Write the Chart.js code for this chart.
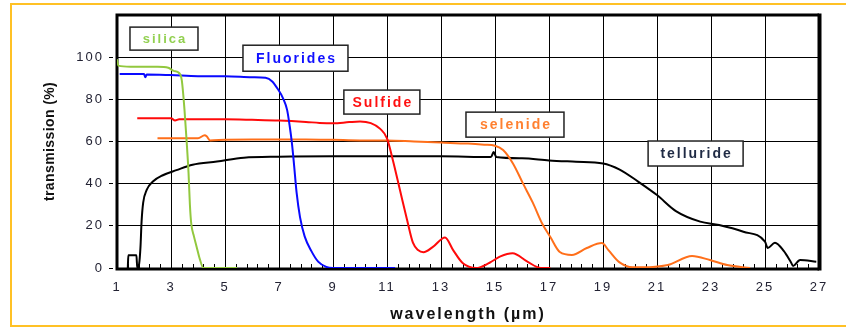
<!DOCTYPE html>
<html>
<head>
<meta charset="utf-8">
<title>Glass transmission</title>
<script src="https://cdn.jsdelivr.net/npm/chart.js@4/dist/chart.umd.min.js"></script>
<style>
  html, body { margin: 0; padding: 0; background: #fff; }
  #wrap { position: relative; width: 846px; height: 329px; overflow: hidden; }
  #frame { position: absolute; left: 10px; top: 3px; width: 850px; height: 320px;
           border: 2px solid #FFC125; border-right: none; }
  canvas { position: absolute; left: 0; top: 0; }
</style>
</head>
<body>
<div id="wrap">
  <div id="frame"></div>
  <canvas id="chart" width="846" height="329"></canvas>
</div>
<script>
// transmission curves, wavelength in µm, transmission in %
const silicaX = [1.0, 1.05, 1.5, 2.0, 2.5, 2.9, 3.1, 3.3, 3.4, 3.5, 3.58, 3.65, 3.7, 3.75, 3.85, 3.95, 4.05, 4.2, 4.8, 5.45];
const silicaY = [99, 96, 95.5, 95.5, 95.5, 95, 93.5, 92.5, 89, 75, 60, 45, 30, 21, 15, 10, 5, 0, 0, 0];

const fluorideX = [1.1, 1.5, 2.0, 2.05, 2.1, 3.0, 4.0, 5.0, 6.0, 6.5, 6.75, 6.95, 7.15, 7.3, 7.4, 7.48, 7.55, 7.65, 7.78, 7.95, 8.2, 8.45, 8.75, 9.0, 10.0, 11.3];
const fluorideY = [92, 92, 92, 90.5, 91.8, 91.5, 91, 91, 90.5, 90.2, 88.5, 85, 80.5, 75, 67, 59, 50, 36, 24, 15, 8, 3, 0.5, 0, 0, 0];

const sulfideX = [1.75, 2.5, 3.0, 3.15, 3.3, 4.0, 5.0, 6.0, 7.0, 8.0, 8.5, 9.0, 9.6, 10.0, 10.4, 10.75, 11.0, 11.22, 11.48, 11.74, 11.96, 12.15, 12.35, 12.7, 13.15, 13.45, 13.8, 14.3, 14.8, 15.2, 15.65, 16.2, 16.7, 17.05];
const sulfideY = [71, 71, 71, 70, 70.5, 70.5, 70.5, 70.3, 70, 69.3, 68.8, 68.6, 69.2, 69.5, 68.7, 66, 61.5, 51, 37, 23, 12, 8.5, 7.5, 10, 14.5, 8.5, 2.4, 0, 2.5, 5.5, 7, 3, 0, 0];

const selenideX = [2.5, 3.0, 4.0, 4.25, 4.32, 4.45, 5.0, 6.0, 7.0, 8.0, 9.0, 10.0, 11.0, 12.0, 13.0, 14.0, 14.6, 15.0, 15.3, 15.67, 16.04, 16.4, 16.75, 17.05, 17.4, 17.85, 18.4, 18.96, 19.2, 19.6, 20.1, 20.85, 21.4, 22.3, 22.96, 23.6, 24.45];
const selenideY = [61.5, 61.5, 61.5, 63, 62.5, 60.5, 60.8, 61, 61, 61, 60.8, 60.5, 60.5, 60, 59.5, 59, 58.5, 58, 56, 49.5, 40, 31, 21, 14.7, 7.6, 6.2, 9.5, 11.8, 8.5, 2.8, 0.3, 0.5, 1.4, 5.7, 3.8, 1.4, 0];

const tellurideX = [1.4, 1.42, 1.72, 1.75, 1.82, 1.87, 1.91, 1.97, 2.1, 2.33, 2.7, 3.2, 3.8, 4.7, 5.7, 7.0, 9.0, 11.0, 13.0, 14.85, 14.95, 15.05, 16.0, 17.0, 18.0, 19.0, 19.6, 20.3, 21.0, 21.7, 22.6, 23.3, 24.2, 25.0, 25.1, 25.37, 25.7, 25.95, 26.04, 26.3, 26.9];
const tellurideY = [0, 6, 6, 0, 2, 10, 22, 31, 37, 41, 44, 46.4, 49, 50.5, 52.3, 52.8, 53, 53, 53, 52.6, 55, 52.6, 52, 51, 50.4, 49.6, 46.8, 41, 34.6, 27, 22, 20.4, 17.2, 12.5, 9.5, 12, 8, 3, 1, 3.8, 3];

// axis ranges / ticks
const xMin = 1, xMax = 27, xStep = 2, xMinorStep = 0.4;
const yMin = 0, yMax = 120, yStep = 20, yLastLabel = 100;

// label boxes (centre in data units, size in px)
const labels = [
  { text: 'silica',    x: 2.74,  y: 108.8, w: 68,  h: 23, color: '#92D050', size: 13 },
  { text: 'Fluorides', x: 7.61,  y: 99.5,  w: 105, h: 26, color: '#1010FF', size: 14 },
  { text: 'Sulfide',   x: 10.81, y: 78.7,  w: 76,  h: 24, color: '#FF1010', size: 14 },
  { text: 'selenide',  x: 15.74, y: 68,    w: 98,  h: 25, color: '#FF8030', size: 14 },
  { text: 'telluride', x: 22.43, y: 54.3,  w: 95,  h: 25, color: '#1F2A44', size: 14 }
];

const FONT = '"Liberation Sans", Arial, Helvetica, sans-serif';

function pts(xs, ys) {
  return xs.map((x, i) => ({ x: x, y: ys[i] }));
}

function series(label, xs, ys, color) {
  return {
    label: label,
    data: pts(xs, ys),
    borderColor: color,
    borderWidth: 2,
    pointRadius: 0,
    fill: false,
    cubicInterpolationMode: 'monotone'
  };
}

// frame, minor ticks, label boxes and y title
const decorations = {
  id: 'decorations',
  beforeDraw(chart) {
    chart.ctx.letterSpacing = '2px';
  },
  beforeDatasetsDraw(chart) {
    const { ctx, chartArea: a, scales: { x } } = chart;
    ctx.save();
    ctx.strokeStyle = '#000';
    ctx.lineWidth = 1;
    ctx.beginPath();
    for (let v = xMin + xMinorStep; v < xMax; v += xMinorStep) {
      const px = Math.round(x.getPixelForValue(v)) + 0.5;
      ctx.moveTo(px, a.bottom);
      ctx.lineTo(px, a.bottom - 4);
    }
    ctx.stroke();
    ctx.lineWidth = 3;
    ctx.beginPath();
    ctx.moveTo(a.left, a.top);
    ctx.lineTo(a.left, a.bottom + 1);
    ctx.lineTo(a.right, a.bottom + 1);
    ctx.moveTo(a.left - 1.5, a.top);
    ctx.lineTo(a.right, a.top);
    ctx.stroke();
    ctx.lineWidth = 4;
    ctx.beginPath();
    ctx.moveTo(a.right + 0.5, a.top - 1.5);
    ctx.lineTo(a.right + 0.5, a.bottom + 2.5);
    ctx.stroke();
    ctx.restore();
  },
  afterDraw(chart) {
    const { ctx, scales: { x, y } } = chart;
    ctx.save();
    labels.forEach(l => {
      const cx = x.getPixelForValue(l.x);
      const cy = y.getPixelForValue(l.y);
      ctx.fillStyle = '#fff';
      ctx.fillRect(cx - l.w / 2, cy - l.h / 2, l.w, l.h);
      ctx.strokeStyle = '#222';
      ctx.lineWidth = 1.5;
      ctx.strokeRect(cx - l.w / 2, cy - l.h / 2, l.w, l.h);
      ctx.letterSpacing = '2px';
      ctx.font = 'bold ' + l.size + 'px ' + FONT;
      ctx.fillStyle = l.color;
      ctx.textAlign = 'center';
      ctx.textBaseline = 'middle';
      ctx.fillText(l.text, cx + 1, cy + 1);
    });
    // y axis title, not stretched
    ctx.letterSpacing = '0.4px';
    ctx.translate(50, (chart.chartArea.top + chart.chartArea.bottom) / 2);
    ctx.rotate(-Math.PI / 2);
    ctx.font = 'bold 14px ' + FONT;
    ctx.fillStyle = '#111';
    ctx.textAlign = 'center';
    ctx.textBaseline = 'middle';
    ctx.fillText('transmission (%)', 0, 0);
    ctx.restore();
  }
};

const ctx = document.getElementById('chart').getContext('2d');
const chart = new Chart(ctx, {
  type: 'line',
  data: {
    datasets: [
      series('silica', silicaX, silicaY, '#92C83E'),
      series('Fluorides', fluorideX, fluorideY, '#0A0AFF'),
      series('Sulfide', sulfideX, sulfideY, '#FF0A0A'),
      series('selenide', selenideX, selenideY, '#FF6F1A'),
      series('telluride', tellurideX, tellurideY, '#000000')
    ]
  },
  options: {
    responsive: false,
    animation: false,
    events: [],
    layout: { padding: { left: 0, right: 27, top: 15, bottom: 0 } },
    plugins: {
      legend: { display: false },
      tooltip: { enabled: false }
    },
    scales: {
      x: {
        type: 'linear',
        min: xMin,
        max: xMax,
        ticks: {
          stepSize: xStep,
          autoSkip: false,
          maxRotation: 0,
          padding: 12,
          color: '#222233',
          font: { family: FONT, size: 13 }
        },
        grid: { color: '#000', lineWidth: 1, borderDash: [4, 3], drawTicks: false },
        border: { display: false },
        title: {
          display: true,
          text: 'wavelength (µm)',
          color: '#111',
          font: { family: FONT, size: 16, weight: 'bold' },
          padding: { top: 0, bottom: 5 }
        },
        afterFit(scale) { scale.height = 61; }
      },
      y: {
        min: yMin,
        max: yMax,
        ticks: {
          stepSize: yStep,
          padding: 5,
          color: '#222233',
          font: { family: FONT, size: 13 },
          callback: v => (v > yLastLabel ? '' : v)
        },
        grid: {
          color: '#000', lineWidth: 1, borderDash: [4, 3],
          tickLength: 8, tickBorderDash: [4, 3],
          tickColor: c => (c.tick && c.tick.value > yLastLabel ? 'rgba(0,0,0,0)' : '#000')
        },
        border: { display: false },
        afterFit(scale) { scale.width = 117; }
      }
    }
  },
  plugins: [decorations]
});
</script>
</body>
</html>
